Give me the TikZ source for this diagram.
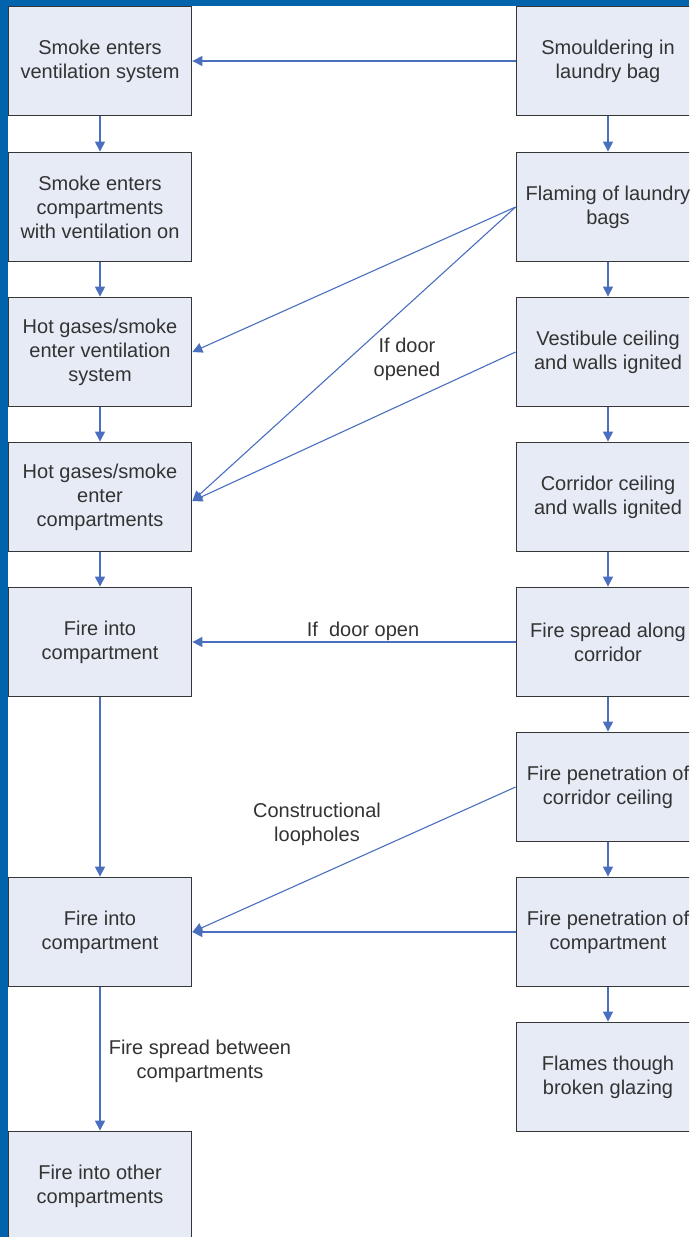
\documentclass[tikz,border=0pt]{standalone}
\usepackage{fontspec}
\setmainfont{Liberation Sans}
\usetikzlibrary{arrows.meta,calc}
\definecolor{frameblue}{HTML}{0063AC}
\definecolor{boxfill}{HTML}{E6EBF5}
\definecolor{boxline}{HTML}{363636}
\definecolor{arrowblue}{HTML}{4A6FBF}
\definecolor{txt}{HTML}{333333}
\tikzset{
  stepbox/.style={draw=boxline, line width=1.8pt, fill=boxfill, minimum width=183pt,
    minimum height=109pt, inner sep=0pt, align=center, text=txt,
    font=\fontsize{20}{24}\selectfont},
  flow/.style={draw=arrowblue, line width=1.1pt, -{Triangle[length=10pt,width=10pt]}},
  lbl/.style={align=center, text=txt, font=\fontsize{20}{24}\selectfont, inner sep=0pt}
}
\begin{document}
\begin{tikzpicture}[x=1pt,y=-1pt]
\useasboundingbox (0,0) rectangle (689,1237);
\clip (0,0) rectangle (689,1237);
\fill[white] (0,0) rectangle (689,1237);
% left column
\node[stepbox] (L1) at (100,61) {Smoke enters\\ventilation system};
\node[stepbox] (L2) at (100,207) {Smoke enters\\compartments\\with ventilation on};
\node[stepbox] (L3) at (100,352) {Hot gases/smoke\\enter ventilation\\system};
\node[stepbox] (L4) at (100,497) {Hot gases/smoke\\enter\\compartments};
\node[stepbox] (L5) at (100,642) {Fire into\\compartment};
\node[stepbox] (L6) at (100,932) {Fire into\\compartment};
\node[stepbox] (L7) at (100,1186) {Fire into other\\compartments};
% right column
\node[stepbox] (R1) at (608,61) {Smouldering in\\laundry bag};
\node[stepbox] (R2) at (608,207) {Flaming of laundry\\bags};
\node[stepbox] (R3) at (608,352) {Vestibule ceiling\\and walls ignited};
\node[stepbox] (R4) at (608,497) {Corridor ceiling\\and walls ignited};
\node[stepbox] (R5) at (608,642) {Fire spread along\\corridor};
\node[stepbox] (R6) at (608,787) {Fire penetration of\\corridor ceiling};
\node[stepbox] (R7) at (608,932) {Fire penetration of\\compartment};
\node[stepbox] (R8) at (608,1077) {Flames though\\broken glazing};
% vertical connectors
\draw[flow] (L1) -- (L2);
\draw[flow] (L2) -- (L3);
\draw[flow] (L3) -- (L4);
\draw[flow] (L4) -- (L5);
\draw[flow] (L5) -- (L6);
\draw[flow] (L6) -- (L7);
\draw[flow] (R1) -- (R2);
\draw[flow] (R2) -- (R3);
\draw[flow] (R3) -- (R4);
\draw[flow] (R4) -- (R5);
\draw[flow] (R5) -- (R6);
\draw[flow] (R6) -- (R7);
\draw[flow] (R7) -- (R8);
% horizontal and diagonal connectors
\draw[flow] (R1.west) -- (L1.east);
\draw[flow] (R2.west) -- (L3.east);
\draw[flow] (R2.west) -- ([yshift=-4pt]L4.east);
\draw[flow] (R3.west) -- ([yshift=-4pt]L4.east);
\draw[flow] (R5.west) -- (L5.east);
\draw[flow] (R6.west) -- (L6.east);
\draw[flow] (R7.west) -- (L6.east);
% labels
\node[lbl] (t1) at (407,359) {If door\\opened};
\node[lbl] (t2) at (363,631) {If~~door open};
\node[lbl] (t3) at (317,824) {Constructional\\loopholes};
\node[lbl] (t4) at (200,1061) {Fire spread between\\compartments};
% frame
\fill[frameblue] (0,0) rectangle (8,1237);
\fill[frameblue] (0,0) rectangle (689,6);
\end{tikzpicture}
\end{document}
